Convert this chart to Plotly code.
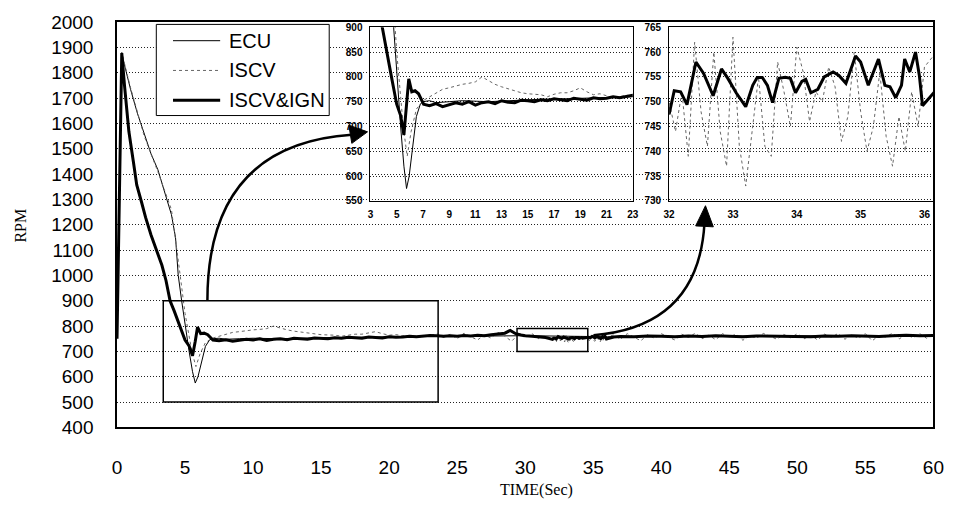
import plotly.graph_objects as go

# ---------------- data ----------------
ecu_t = [0, 0.35, 0.6, 1.0, 1.5, 2.0, 2.5, 3.0, 3.5, 4.0, 4.3, 4.5, 4.75, 5.0, 5.3, 5.55, 5.75,
         5.95, 6.2, 6.5, 6.8, 7.0, 7.5, 8, 9, 10, 12, 14, 16, 18, 20, 23, 26, 30, 36, 40, 45, 50, 55, 60]
ecu_rpm = [760, 1880, 1820, 1734, 1640, 1557, 1480, 1418, 1330, 1240, 1150, 1000, 900, 800, 700, 620, 575,
           600, 660, 720, 745, 750, 752, 748, 750, 752, 750, 753, 755, 756, 758, 760, 760, 762, 758, 760, 760, 761, 760, 762]

iscv_t = [0, 0.35, 1.0, 2.0, 3.0, 4.0, 4.5, 5.0, 5.5, 5.8, 6.1, 6.5, 7.0, 7.5, 8, 8.5, 9, 9.5, 10, 10.5,
          11, 11.5, 12, 12.5, 13, 13.5, 14, 14.5, 15, 15.5, 16, 16.5, 17, 17.5, 18, 18.5, 19, 19.5, 20,
          20.5, 21, 21.5, 22, 22.5, 23, 23.5, 24, 24.5, 25, 25.5, 26, 26.5, 27, 27.5, 28, 28.5, 29, 29.5,
          30, 30.5, 31, 31.5,
          32.0, 32.1, 32.2, 32.3, 32.4, 32.5, 32.6, 32.7, 32.8, 32.9, 33.0, 33.1, 33.2, 33.3, 33.4, 33.5,
          33.6, 33.7, 33.8, 33.9, 34.0, 34.1, 34.2, 34.3, 34.4, 34.5, 34.6, 34.7, 34.8, 34.9, 35.0, 35.1,
          35.2, 35.3, 35.4, 35.5, 35.6, 35.7, 35.8, 35.9, 36.0,
          36.5, 37, 37.5, 38, 38.5, 39, 39.5, 40, 40.5, 41, 41.5, 42, 42.5, 43, 43.5, 44, 44.5, 45, 45.5,
          46, 46.5, 47, 47.5, 48, 48.5, 49, 49.5, 50, 50.5, 51, 51.5, 52, 52.5, 53, 53.5, 54, 54.5, 55,
          55.5, 56, 56.5, 57, 57.5, 58, 58.5, 59, 59.5, 60]
iscv_rpm = [760, 1880, 1740, 1550, 1410, 1260, 1060, 850, 700, 640, 690, 735, 752, 760, 768, 775, 778, 782, 785, 787,
            790, 800, 792, 785, 780, 776, 772, 768, 766, 765, 764, 760, 765, 768, 768, 772, 778, 770, 764,
            766, 762, 758, 760, 763, 762, 770, 755, 768, 750, 772, 758, 745, 766, 752, 775, 760, 740, 768,
            755, 770, 750, 762,
            750, 744, 752, 739, 762, 748, 741, 760, 744, 737, 763, 741, 733, 744, 755, 741,
            739, 758, 752, 745, 761, 756, 746, 752, 750, 757, 753, 742, 747, 760, 748, 740,
            745, 756, 743, 737, 747, 740, 752, 745, 757,
            765, 748, 770, 756, 742, 766, 752, 770, 758, 745, 768, 755, 772, 750, 764, 746, 770, 757, 768,
            744, 762, 752, 771, 758, 748, 767, 754, 770, 750, 763, 745, 768, 756, 771, 748, 765, 752, 770,
            742, 762, 757, 772, 750, 766, 754, 770, 752, 764]

ign_t = [0, 0.35, 0.55, 0.87, 1.2, 1.45, 1.8, 2.1, 2.5, 2.9, 3.3, 3.6, 3.9, 4.2, 4.6, 5.0, 5.3, 5.55, 5.75,
         5.92, 6.15, 6.4, 6.67, 7.05, 7.5, 8, 8.5, 9, 9.5, 10, 10.5, 11, 11.5, 12, 12.5, 13, 13.5, 14,
         14.5, 15, 15.5, 16, 16.5, 17, 17.5, 18, 18.5, 19, 19.5, 20, 20.5, 21, 21.5, 22, 22.5, 23,
         23.5, 24, 24.5, 25, 25.5, 26, 26.5, 27, 27.5, 28, 28.5, 28.9, 29.3, 29.7, 30, 30.5, 31, 31.5,
         32.0, 32.08, 32.18, 32.28, 32.42, 32.54, 32.69, 32.82, 32.92, 33.05, 33.2, 33.31, 33.38, 33.46,
         33.54, 33.62, 33.72, 33.82, 33.9, 33.98, 34.08, 34.14, 34.22, 34.33, 34.43, 34.57, 34.66, 34.77,
         34.92, 35.0, 35.12, 35.28, 35.38, 35.46, 35.55, 35.64, 35.69, 35.77, 35.86, 35.92, 35.97,
         36.5, 37, 38, 39, 40, 41, 42, 43, 44, 45, 46, 47, 48, 49, 50, 51, 52, 53, 54, 55, 56, 57, 58, 59, 60]
ign_rpm = [750, 1878, 1750, 1569, 1450, 1357, 1290, 1229, 1160, 1104, 1040, 980, 900, 860, 800, 745, 722, 683, 740,
           796, 770, 772, 766, 745, 742, 746, 740, 744, 748, 745, 750, 743, 748, 750, 746, 752, 749, 748,
           753, 752, 750, 754, 752, 756, 754, 752, 757, 755, 753, 758, 756, 757, 760, 758, 761, 763,
           762, 760, 762, 760, 763, 761, 764, 762, 766, 768, 772, 783, 770, 765, 762, 760, 758, 755,
           747.5, 752.2, 752, 749.4, 758, 755.7, 751.2, 756.6, 754.7, 751.8, 749, 753.3, 754.9, 754.9,
           753.3, 749.8, 754.7, 754.9, 754.7, 751.8, 754.1, 754.5, 751.8, 752.5, 755, 756, 755.3, 753.7,
           759.2, 758, 753.3, 758.6, 753.3, 753, 750.8, 753.3, 758.6, 756, 760, 755.3, 749.2,
           757, 759, 758, 761, 760, 758, 761, 759, 762, 760, 758, 761, 760, 762, 759, 758, 761, 760, 762, 761, 759, 762, 764, 762, 763]

main_yticks = list(range(400, 2001, 100))
main_xticks = list(range(0, 61, 5))
inset1_xticks = list(range(3, 24, 2))
inset1_yticks = list(range(550, 901, 50))
inset2_xticks = [32, 33, 34, 35, 36]
inset2_yticks = list(range(730, 766, 5))

legend_names = ["ECU", "ISCV", "ISCV&IGN"]

# ---------------- figure ----------------
W, H = 966, 518


def px(x, y):
    return x / W, 1 - y / H


fig = go.Figure()

styles = {
    "ECU": dict(color="black", width=1),
    "ISCV": dict(color="#666", width=1, dash="dot"),
    "ISCV&IGN": dict(color="black", width=3),
}
series = {"ECU": (ecu_t, ecu_rpm), "ISCV": (iscv_t, iscv_rpm), "ISCV&IGN": (ign_t, ign_rpm)}

for ax in ["", "2", "3"]:
    for name in legend_names:
        if ax == "3" and name == "ECU":
            continue
        t, v = series[name]
        fig.add_trace(go.Scatter(x=t, y=v, mode="lines", name=name, line=styles[name],
                                 xaxis="x" + ax, yaxis="y" + ax, showlegend=False,
                                 hoverinfo="skip"))

tickfont_main = dict(family="Liberation Sans, Arial, sans-serif", size=19, color="black")
tickfont_small = dict(family="Liberation Sans, Arial, sans-serif", size=10, color="black", weight="bold")
grid = dict(showgrid=True, gridcolor="#222", griddash="1px,2px", gridwidth=1)

fig.update_layout(
    width=W, height=H, margin=dict(l=0, r=0, t=0, b=0),
    paper_bgcolor="white", plot_bgcolor="rgba(0,0,0,0)", showlegend=False,
    xaxis=dict(domain=[113 / W, 944 / W], range=[0, 60], tickvals=main_xticks, showgrid=False,
               zeroline=False, showline=True, mirror=True, linecolor="black", linewidth=1.5,
               tickfont=tickfont_main, ticks="", ticklabelstandoff=22),
    yaxis=dict(domain=[1 - 435 / H, 1 - 12.7 / H], range=[400, 2000], tickvals=main_yticks,
               zeroline=False, showline=True, mirror=True, linecolor="black", linewidth=1.5,
               tickfont=tickfont_main, ticks="", ticklabelstandoff=18, **grid),
    xaxis2=dict(domain=[371 / W, 638 / W], range=[3, 23], tickvals=inset1_xticks, showgrid=False,
                zeroline=False, showline=True, mirror=True, linecolor="black", linewidth=1,
                tickfont=tickfont_small, ticks="", ticklabelstandoff=4, anchor="y2"),
    yaxis2=dict(domain=[1 - 199 / H, 1 - 18 / H], range=[550, 900], tickvals=inset1_yticks,
                zeroline=False, showline=True, mirror=True, linecolor="black", linewidth=1,
                tickfont=tickfont_small, ticks="", ticklabelstandoff=5, anchor="x2", **grid),
    xaxis3=dict(domain=[675 / W, 944 / W], range=[32, 36.14], tickvals=inset2_xticks, showgrid=False,
                zeroline=False, showline=True, mirror=True, linecolor="black", linewidth=1,
                tickfont=tickfont_small, ticks="", ticklabelstandoff=4, anchor="y3"),
    yaxis3=dict(domain=[1 - 199 / H, 1 - 18 / H], range=[730, 765], tickvals=inset2_yticks,
                zeroline=False, showline=True, mirror=True, linecolor="black", linewidth=1,
                tickfont=tickfont_small, ticks="", ticklabelstandoff=5, anchor="x3", **grid),
)

shapes = []
# zoom boxes on main chart
shapes.append(dict(type="rect", xref="x", yref="y", x0=3.4, x1=23.6, y0=500, y1=900,
                   line=dict(color="black", width=1.5)))
shapes.append(dict(type="rect", xref="x", yref="y", x0=29.4, x1=34.6, y0=700, y1=790,
                   line=dict(color="black", width=1.5)))


def path_q(p0, c, p1):
    a = px(*p0); b = px(*c); d = px(*p1)
    return f"M {a[0]},{a[1]} Q {b[0]},{b[1]} {d[0]},{d[1]}"


def tri(p0, p1, p2):
    a = px(*p0); b = px(*p1); d = px(*p2)
    return f"M {a[0]},{a[1]} L {b[0]},{b[1]} L {d[0]},{d[1]} Z"


shapes.append(dict(type="path", xref="paper", yref="paper", path=path_q((205, 303), (205, 140), (352, 130)),
                   line=dict(color="black", width=2.5)))
shapes.append(dict(type="path", xref="paper", yref="paper", path=tri((368, 127), (349, 120), (352, 139)),
                   fillcolor="black", line=dict(color="black", width=1)))
shapes.append(dict(type="path", xref="paper", yref="paper", path=path_q((598, 339), (705, 330), (711, 222)),
                   line=dict(color="black", width=2.5)))
shapes.append(dict(type="path", xref="paper", yref="paper", path=tri((712, 204), (702, 225), (720, 226)),
                   fillcolor="black", line=dict(color="black", width=1)))

# legend box
x0, y0 = px(153, 15); x1, y1 = px(329, 110)
shapes.append(dict(type="rect", xref="paper", yref="paper", x0=x0, x1=x1, y0=y1, y1=y0,
                   fillcolor="white", line=dict(color="black", width=1), layer="above"))
annotations = []
for i, name in enumerate(legend_names):
    yy = 32 + 31 * i
    la, lb = px(170, yy), px(218, yy)
    shapes.append(dict(type="line", xref="paper", yref="paper", x0=la[0], x1=lb[0], y0=la[1], y1=lb[1],
                       line=styles[name], layer="above"))
    tp = px(225, yy)
    annotations.append(dict(xref="paper", yref="paper", x=tp[0], y=tp[1], text=name, showarrow=False,
                            xanchor="left", yanchor="middle",
                            font=dict(family="Liberation Sans, Arial, sans-serif", size=20, color="black")))

tx = px(540, 500)
annotations.append(dict(xref="paper", yref="paper", x=tx[0], y=tx[1], text="TIME(Sec)", showarrow=False,
                        xanchor="center", yanchor="middle",
                        font=dict(family="Liberation Serif, Times New Roman, serif", size=16, color="black")))
ty = px(15, 225)
annotations.append(dict(xref="paper", yref="paper", x=ty[0], y=ty[1], text="RPM", showarrow=False,
                        textangle=-90, xanchor="center", yanchor="middle",
                        font=dict(family="Liberation Serif, Times New Roman, serif", size=16, color="black")))

fig.update_layout(shapes=shapes, annotations=annotations)
fig.write_html("out.html")
